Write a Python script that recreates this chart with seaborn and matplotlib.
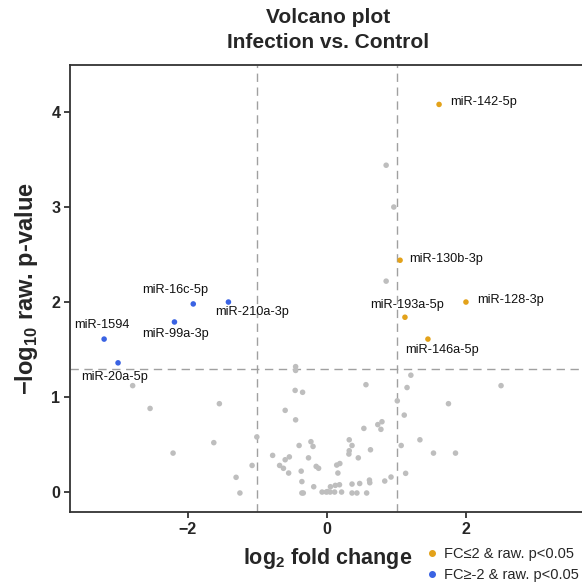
import pandas as pd
import matplotlib
matplotlib.use("Agg")
import matplotlib.pyplot as plt
from matplotlib.lines import Line2D
import seaborn as sns

# data
gray_x = [-2.79, -2.54, -1.545, -1.007, -2.21, -1.625, -1.075, -1.305, -1.25,
          -0.45, -0.45, 0.56, -0.457, -0.35, -0.60, -0.45, 1.01, 0.53, 0.73, 0.79, 0.775,
          -0.40, -0.23, -0.20, 0.32, 0.36, 0.32, 0.315, 0.625, 1.066, -0.78, -0.60, -0.54,
          -0.265, 0.45, -0.68, -0.625, -0.55, -0.37, -0.155, -0.12, 0.14, 0.185, 0.157,
          -0.36, -0.36, -0.34, -0.19, -0.07, -0.01, 0.007, 0.046, 0.11, 0.21,
          0.05, 0.12, 0.18, 0.36, 0.47, 0.36, 0.43, 0.57, 0.61, 0.615, 0.83, 0.92, 1.13,
          1.205, 1.15, 1.11, 2.50, 1.745, 1.335, 1.53, 1.846, 0.85, 0.96, 0.85]
gray_y = [1.12, 0.88, 0.93, 0.58, 0.41, 0.52, 0.28, 0.155, -0.01,
          1.32, 1.28, 1.13, 1.07, 1.05, 0.86, 0.76, 0.96, 0.67, 0.71, 0.74, 0.66,
          0.49, 0.53, 0.48, 0.55, 0.49, 0.435, 0.40, 0.445, 0.49, 0.386, 0.34, 0.37,
          0.36, 0.36, 0.28, 0.25, 0.20, 0.22, 0.27, 0.25, 0.284, 0.30, 0.20,
          0.11, -0.01, -0.01, 0.056, 0.0, 0.0, 0.005, 0.0, 0.0, 0.0,
          0.056, 0.07, 0.077, 0.084, 0.09, -0.01, -0.01, -0.01, 0.126, 0.098, 0.116, 0.158, 0.197,
          1.23, 1.10, 0.81, 1.12, 0.93, 0.55, 0.41, 0.41, 3.44, 3.0, 2.22]

up_labels = ["miR-142-5p", "miR-130b-3p", "miR-128-3p", "miR-193a-5p", "miR-146a-5p"]
up_x = [1.61, 1.05, 1.996, 1.12, 1.45]
up_y = [4.08, 2.44, 2.0, 1.84, 1.61]

down_labels = ["miR-16c-5p", "miR-210a-3p", "miR-99a-3p", "miR-1594", "miR-20a-5p"]
down_x = [-1.92, -1.415, -2.19, -3.20, -3.0]
down_y = [1.98, 2.0, 1.79, 1.61, 1.36]

legend_labels = ["FC\u22642 & raw. p<0.05", "FC\u2265-2 & raw. p<0.05"]

GRAY = "#BEBEBE"
ORANGE = "#E3A21A"
BLUE = "#3A63E3"

# label offsets in pixels (dx, dy, ha)
offsets = {
    "miR-142-5p": (11, 2, "left"), "miR-130b-3p": (9, 1, "left"),
    "miR-128-3p": (11, 2, "left"), "miR-193a-5p": (2, 12, "center"),
    "miR-146a-5p": (-23, -11, "left"), "miR-16c-5p": (-18, 14, "center"),
    "miR-210a-3p": (24, -10, "center"), "miR-99a-3p": (1, -12, "center"),
    "miR-1594": (-2, 14, "center"), "miR-20a-5p": (-3, -14, "center"),
}

df = pd.concat([
    pd.DataFrame({"x": gray_x, "y": gray_y, "group": "ns"}),
    pd.DataFrame({"x": up_x, "y": up_y, "group": "up", "label": up_labels}),
    pd.DataFrame({"x": down_x, "y": down_y, "group": "down", "label": down_labels}),
], ignore_index=True)

sns.set_style("white")
plt.rcParams["font.family"] = ["Liberation Sans", "DejaVu Sans"]
plt.rcParams["mathtext.fontset"] = "custom"
plt.rcParams["mathtext.bf"] = "Liberation Sans:bold"
plt.rcParams["mathtext.rm"] = "Liberation Sans"

fig = plt.figure(figsize=(5.82, 5.85), dpi=100)
ax = fig.add_axes([70 / 582, 1 - 512 / 585, 516 / 582, (512 - 65) / 585])

sns.scatterplot(data=df, x="x", y="y", hue="group",
                palette={"ns": GRAY, "up": ORANGE, "down": BLUE},
                s=16, linewidth=0, legend=False, ax=ax, zorder=3)

for v in (-1, 1):
    ax.axvline(v, color="#A0A0A0", lw=1, ls=(0, (6, 4)), zorder=1)
ax.axhline(1.3, color="#A0A0A0", lw=1, ls=(0, (6, 4)), zorder=1)

lab = df.dropna(subset=["label"])
for _, r in lab.iterrows():
    dx, dy, ha = offsets[r["label"]]
    ax.annotate(r["label"], (r["x"], r["y"]), xytext=(dx, dy),
                textcoords="offset pixels", ha=ha, va="center", fontsize=9.2,
                color="#111111")

ax.set_xlim(-3.69, 3.72)
ax.set_ylim(-0.21, 4.495)
ax.set_xticks([-2, 0, 2])
ax.set_xticklabels(["\u22122", "0", "2"])
ax.set_yticks([0, 1, 2, 3, 4])
ax.tick_params(axis="both", direction="out", length=4, width=1.3, color="#333333",
               labelsize=11.5, pad=3, bottom=True, left=True)
for t in ax.get_xticklabels() + ax.get_yticklabels():
    t.set_fontweight("bold")
for s in ["left", "bottom", "top", "right"]:
    ax.spines[s].set_color("#333333")
    ax.spines[s].set_linewidth(1.3)

ax.set_xlabel(r"log$_{\mathbf{2}}$ fold change", fontsize=15.5, fontweight="bold", labelpad=7)
ax.set_ylabel("\u2212log" + r"$_{\mathbf{10}}$" + " raw. p-value",
              fontsize=17, fontweight="bold", labelpad=8)
ax.set_title("Volcano plot\nInfection vs. Control", fontsize=15, fontweight="bold",
             pad=12, linespacing=1.45)

handles = [Line2D([], [], marker="o", ls="", color=ORANGE, markersize=4),
           Line2D([], [], marker="o", ls="", color=BLUE, markersize=4)]
fig.legend(handles, legend_labels, loc="upper left", bbox_to_anchor=(428 / 582, 1 - 547 / 585),
           frameon=False, fontsize=10.5, handlelength=0.6, handletextpad=0.5,
           borderpad=0, borderaxespad=0, labelspacing=0.5)

fig.savefig("out.png", dpi=100)
